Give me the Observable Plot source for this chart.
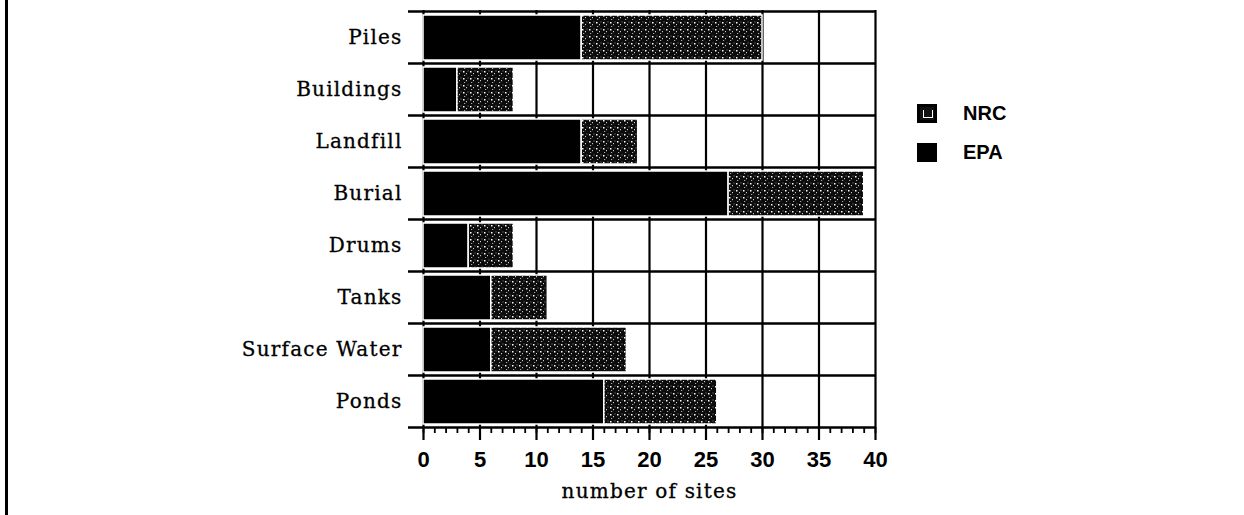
<!DOCTYPE html>
<html>
<head>
<meta charset="utf-8">
<script src="https://cdn.jsdelivr.net/npm/d3@7"></script>
<script src="https://cdn.jsdelivr.net/npm/@observablehq/plot@0.6"></script>
<style>
  html, body { margin: 0; padding: 0; background: #fff; }
  #wrap { position: relative; width: 1244px; height: 515px; overflow: hidden; }
  #frame { position: absolute; left: 5px; top: 0; width: 3px; height: 515px; background: #000; }
  .leg { position: absolute; font: bold 20px "Liberation Sans", Arial, sans-serif; color: #000; }
  .sw { position: absolute; width: 20px; height: 19px; box-sizing: border-box; }
  .ylab text { font-family: "DejaVu Serif", serif; font-size: 20px; letter-spacing: 1.2px; stroke: #000; stroke-width: 0.3px; }
</style>
</head>
<body>
<div id="wrap">
  <div id="chart"></div>
  <div id="frame"></div>
</div>
<script>
const categories = ["Piles", "Buildings", "Landfill", "Burial", "Drums", "Tanks", "Surface Water", "Ponds"];
const epaValues = [14, 3, 14, 27, 4, 6, 6, 16];
const nrcValues = [16, 5, 5, 12, 4, 5, 12, 10];
const sources = ["EPA", "NRC"];
const majorTicks = [0, 5, 10, 15, 20, 25, 30, 35, 40];
const minorTicks = d3.range(0, 41, 1);
const xLabel = "number of sites";

const rows = [];
categories.forEach((c, i) => rows.push({category: c, source: "EPA", value: epaValues[i]}));
categories.forEach((c, i) => rows.push({category: c, source: "NRC", value: nrcValues[i]}));

const W = 1244, H = 515;
const mTop = 10, mBottom = 88, mLeft = 423, mRight = 369;
const step = (H - mTop - mBottom) / categories.length;

const chart = Plot.plot({
  width: W,
  height: H,
  marginTop: mTop,
  marginBottom: mBottom,
  marginLeft: mLeft,
  marginRight: mRight,
  style: {background: "#fff", color: "#000", fontFamily: "'Liberation Sans', Arial, sans-serif"},
  x: {domain: [0, 40], label: null},
  y: {domain: categories, padding: 0, label: null},
  color: {domain: sources, range: ["#000", "url(#stipple)"]},
  marks: [
    Plot.ruleX(majorTicks, {stroke: "#000", strokeWidth: 2.2}),
    Plot.ruleY(categories, {y: d => d, dy: -step / 2, stroke: "#000", strokeWidth: 2.5, insetLeft: -15}),
    Plot.ruleY(categories.slice(-1), {y: d => d, dy: step / 2, stroke: "#000", strokeWidth: 2.5, insetLeft: -15}),
    Plot.barX(rows, Plot.stackX({
      y: "category", x: "value", fill: "source",
      stroke: "#fff", strokeWidth: 1.5, insetTop: 4, insetBottom: 3
    })),
    Plot.axisX({ticks: minorTicks, tickSize: 6, text: null, label: null, strokeWidth: 1.8}),
    Plot.axisX({ticks: majorTicks, tickSize: 13, tickPadding: 11, strokeWidth: 2.2,
      fontSize: 22, fontWeight: "bold", label: null}),
    Plot.axisY({tickSize: 0, tickPadding: 21, label: null, className: "ylab"}),
    Plot.text([xLabel], {frameAnchor: "bottom", dy: 70, fontSize: 20,
      fontFamily: "'DejaVu Serif', serif", fill: "#000", text: d => d})
  ]
});

// stipple pattern for NRC segments
const svgns = "http://www.w3.org/2000/svg";
const defs = document.createElementNS(svgns, "defs");
defs.innerHTML = `
  <pattern id="stipple" patternUnits="userSpaceOnUse" width="7" height="7">
    <rect width="7" height="7" fill="#0c0c0c"/>
    <rect x="1" y="1" width="1.5" height="1.5" fill="#fff"/>
    <rect x="4" y="3" width="1" height="1.2" fill="#ccc"/>
    <rect x="2" y="5" width="1.2" height="1" fill="#aaa"/>
    <rect x="5.5" y="0.5" width="1" height="1" fill="#888"/>
  </pattern>`;
chart.insertBefore(defs, chart.firstChild);
chart.querySelectorAll("text").forEach(t => {
  if (t.textContent === xLabel) { t.setAttribute("letter-spacing", "1.2"); t.setAttribute("stroke", "#000"); t.setAttribute("stroke-width", "0.3"); }
});
document.getElementById("chart").appendChild(chart);

// legend
const wrap = document.getElementById("wrap");
const legendItems = [
  {label: "NRC", top: 104, fill: "url(#stipple)"},
  {label: "EPA", top: 143, fill: "#000"}
];
legendItems.forEach(item => {
  const sw = document.createElement("div");
  sw.className = "sw";
  sw.style.left = "917px";
  sw.style.top = item.top + "px";
  if (item.label === "NRC") {
    sw.style.background = "#111";
    sw.style.border = "3px solid #000";
    sw.innerHTML = '<div style="position:absolute;left:3px;top:3px;width:8px;height:7px;border:1px solid #fff;border-top:none"></div>';
  } else {
    sw.style.background = "#000";
  }
  wrap.appendChild(sw);
  const tx = document.createElement("div");
  tx.className = "leg";
  tx.style.left = "963px";
  tx.style.top = (item.top - 2) + "px";
  tx.textContent = item.label;
  wrap.appendChild(tx);
});
</script>
</body>
</html>
